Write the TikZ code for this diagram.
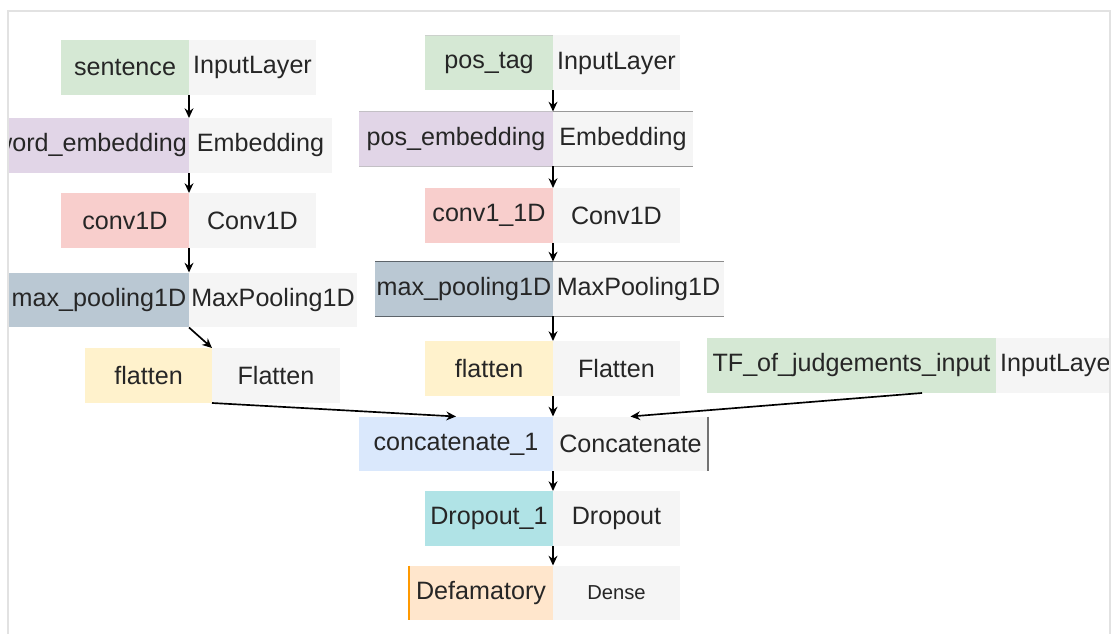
\documentclass[tikz,border=0pt]{standalone}
\usepackage{fontspec}
\setmainfont{Liberation Sans}
\usetikzlibrary{positioning,arrows.meta}

\definecolor{cgreen}{HTML}{D5E8D4}
\definecolor{cpurple}{HTML}{E1D5E7}
\definecolor{cred}{HTML}{F8CECC}
\definecolor{cslate}{HTML}{BAC8D3}
\definecolor{cyellow}{HTML}{FFF2CC}
\definecolor{cblue}{HTML}{DAE8FC}
\definecolor{cteal}{HTML}{B0E3E6}
\definecolor{cpeach}{HTML}{FFE6CC}
\definecolor{cgray}{HTML}{F5F5F5}
\definecolor{cframe}{HTML}{E2E2E2}

\begin{document}
\begin{tikzpicture}[x=0.02cm, y=-0.02cm, >={Stealth[length=5.5pt,width=5pt]},
  every node/.style={font=\fontsize{14.3}{16}\selectfont, text=black!85},
  lname/.style={rectangle, inner sep=0pt, outer sep=0pt, minimum height=1.1cm},
  ltype/.style={rectangle, inner sep=0pt, outer sep=0pt, minimum height=1.1cm, fill=cgray},
  link/.style={->, line width=0.95pt}]
\useasboundingbox (0,0) rectangle (1112,634);

\begin{scope}
\clip (9,12) rectangle (1109,634);

% left branch
\node[lname, fill=cgreen, minimum width=2.56cm, anchor=east] (sent) at (189,67.5) {sentence};
\node[ltype, minimum width=2.54cm, right=0pt of sent] (sentT) {InputLayer};

\node[lname, fill=cpurple, minimum width=3.94cm, anchor=east] (wemb) at (189,145.5) {word\_embedding};
\node[ltype, minimum width=2.86cm, right=0pt of wemb] (wembT) {Embedding};

\node[lname, fill=cred, minimum width=2.56cm, anchor=east] (conv) at (189,220.5) {conv1D};
\node[ltype, minimum width=2.54cm, right=0pt of conv] (convT) {Conv1D};

\node[lname, fill=cslate, minimum width=3.6cm, anchor=east] (pool) at (189,300) {max\_pooling1D};
\node[ltype, minimum width=3.36cm, right=0pt of pool] (poolT) {MaxPooling1D};

\node[lname, fill=cyellow, minimum width=2.54cm, anchor=east] (flat) at (212,375.5) {flatten};
\node[ltype, minimum width=2.56cm, right=0pt of flat] (flatT) {Flatten};

% middle branch
\node[lname, fill=cgreen, minimum width=2.56cm, anchor=east] (pos) at (553,63) {pos\_tag};
\node[ltype, minimum width=2.54cm, right=0pt of pos] (posT) {InputLayer};

\node[lname, fill=cpurple, minimum width=3.88cm, anchor=east] (pemb) at (553,139) {pos\_embedding};
\node[ltype, minimum width=2.8cm, right=0pt of pemb] (pembT) {Embedding};

\node[lname, fill=cred, minimum width=2.56cm, anchor=east] (pconv) at (553,215.5) {conv1\_1D};
\node[ltype, minimum width=2.54cm, right=0pt of pconv] (pconvT) {Conv1D};

\node[lname, fill=cslate, minimum width=3.56cm, anchor=east] (ppool) at (553,289) {max\_pooling1D};
\node[ltype, minimum width=3.42cm, right=0pt of ppool] (ppoolT) {MaxPooling1D};

\node[lname, fill=cyellow, minimum width=2.56cm, anchor=east] (pflat) at (553,368.5) {flatten};
\node[ltype, minimum width=2.54cm, right=0pt of pflat] (pflatT) {Flatten};

% third input
\node[lname, fill=cgreen, minimum width=5.78cm, anchor=east] (tf) at (996,365.5) {TF\_of\_judgements\_input};
\node[ltype, minimum width=2.54cm, right=0pt of tf] (tfT) {InputLayer};

% merged part
\node[lname, fill=cblue, minimum width=3.88cm, anchor=east] (cat) at (553,444) {concatenate\_1};
\node[ltype, minimum width=3.1cm, right=0pt of cat] (catT) {Concatenate};

\node[lname, fill=cteal, minimum width=2.56cm, anchor=east] (drop) at (553,518.5) {Dropout\_1};
\node[ltype, minimum width=2.54cm, right=0pt of drop] (dropT) {Dropout};

\node[lname, fill=cpeach, minimum width=2.88cm, anchor=east] (out) at (553,593) {Defamatory};
\node[ltype, minimum width=2.54cm, right=0pt of out, font=\fontsize{11.5}{13}\selectfont] (outT) {Dense};

% partial borders
\draw[cgreen!60!black!40, line width=0.4pt] (pos.north west) -- (pos.north east);
\draw[cpurple!60!black!50, line width=0.6pt] (pemb.north west) -- (pemb.north east) (pemb.south west) -- (pemb.south east);
\draw[black!40, line width=0.6pt] (pembT.north west) -- (pembT.north east) (pembT.south west) -- (pembT.south east);
\draw[cslate!50!black, line width=0.6pt] (ppool.north west) -- (ppool.north east) (ppool.south west) -- (ppool.south east);
\draw[black!45, line width=0.6pt] (ppoolT.north west) -- (ppoolT.north east) (ppoolT.south west) -- (ppoolT.south east);
\draw[black!55, line width=0.6pt] (catT.north east) -- (catT.south east);
\draw[orange!80!yellow, line width=0.8pt] (out.north west) -- (out.south west);

% connectors
\draw[link] (sent.south east) -- (wemb.north east);
\draw[link] (wemb.south east) -- (conv.north east);
\draw[link] (conv.south east) -- (pool.north east);
\draw[link] (pool.south east) -- (flat.north east);
\draw[link] (pos.south east) -- (pemb.north east);
\draw[link] (pemb.south east) -- (pconv.north east);
\draw[link] (pconv.south east) -- (ppool.north east);
\draw[link] (ppool.south east) -- (pflat.north east);
\draw[link] (pflat.south east) -- (cat.north east);
\draw[link] (flat.south east) -- (cat.north);
\draw[link] ([xshift=-1.48cm]tfT.south west) -- (catT.north);
\draw[link] (cat.south east) -- (drop.north east);
\draw[link] (drop.south east) -- (out.north east);
\end{scope}

% frame
\draw[cframe, line width=1.2pt] (8,634) -- (8,11) -- (1110,11) -- (1110,634);
\end{tikzpicture}
\end{document}
